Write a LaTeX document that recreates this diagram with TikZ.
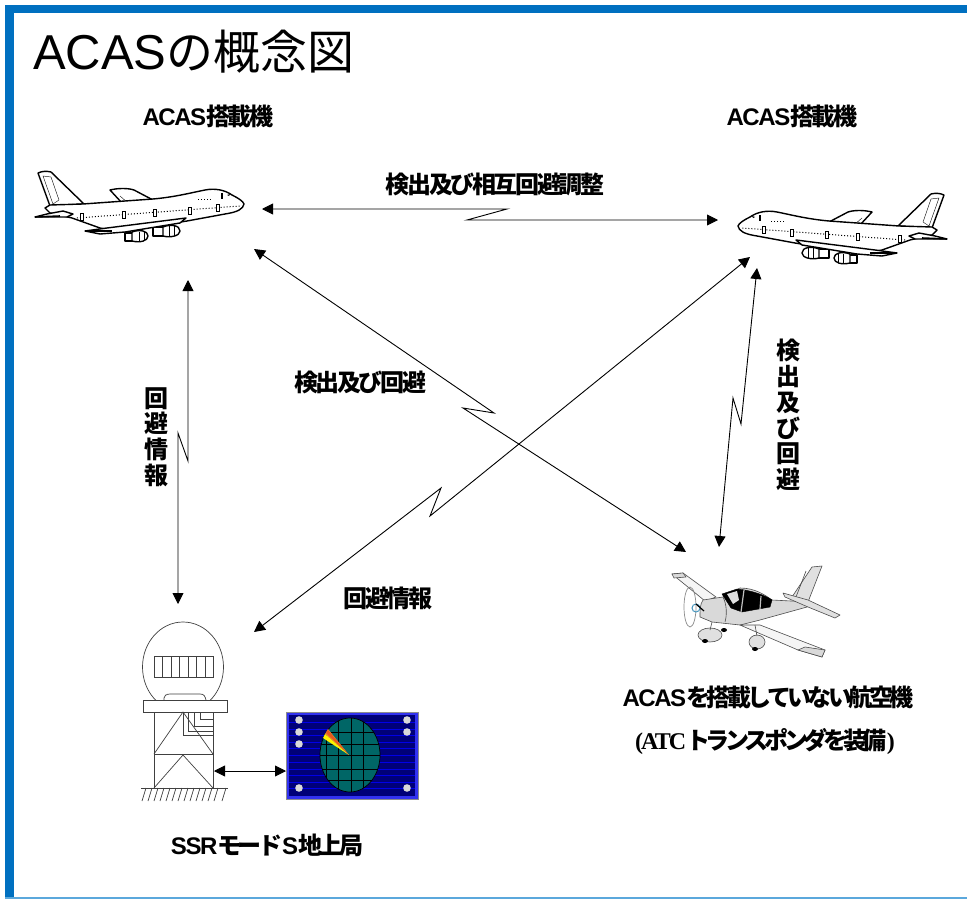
\documentclass[tikz,border=0pt]{standalone}
\usepackage{fontspec}
\usetikzlibrary{arrows.meta}
\newfontfamily\titlecjk{Noto Sans CJK JP}
\newfontfamily\titlelat{Liberation Sans}
\newfontfamily\lblcjk[LetterSpace=-10]{Noto Sans CJK JP}
\newfontfamily\lbllat[LetterSpace=-6]{Liberation Sans}
\newfontfamily\lblser[LetterSpace=-8]{Liberation Serif}
\newfontfamily\lbltight[LetterSpace=-15]{Noto Sans CJK JP}
\newfontfamily\lblatc[LetterSpace=-18]{Noto Sans CJK JP}
\newcommand\bigjet{%
  % far wing
  \draw[jetline,fill=white] (110,190) .. controls (118,188) and (128,188) .. (134,190) -- (153,200) -- (122,203) -- cycle;
  \draw[thin] (120,196) -- (128,203);
  % tail fin
  \draw[jetline,fill=white] (50,206) -- (38,173) .. controls (42,171) and (47,171) .. (51,172) -- (84,204) -- cycle;
  \draw[thin,fill=white] (43,176) -- (51,177) -- (59,200) -- (53,204) -- cycle;
  % fuselage
  \draw[jetline,fill=white] (83,204) -- (153,199) .. controls (175,197) and (190,193) .. (205,190) .. controls (215,188) and (225,190) .. (232,195) .. controls (238,198) and (243,201) .. (244,204) .. controls (243,209) and (238,212) .. (225,214) -- (187,221) -- (120,232) -- (100,228) -- (72,218) -- (50,213) -- (45,208) -- (50,205) -- cycle;
  % tail plane
  \draw[jetline,fill=white] (35,217) -- (47,214) -- (63,211) -- (73,214) -- (67,217) -- cycle;
  \draw[line width=1.6pt] (35,217) -- (60,216);
  % engines
  \draw[jetline,fill=white] (125,233) rectangle (134,241);
  \draw[jetline,fill=white] (132,232) .. controls (140,229) and (148,231) .. (148,236) .. controls (148,241) and (140,243) .. (132,241) -- cycle;
  \draw[line width=.8pt] (139,232) -- (139,241) (144,232) -- (144,241);
  \draw[jetline,fill=white] (153,227) rectangle (164,236);
  \draw[jetline,fill=white] (163,227) .. controls (170,224) and (180,225) .. (180,231) .. controls (180,236) and (170,238) .. (163,236) -- cycle;
  \draw[line width=.8pt] (169,226) -- (169,236) (174,226) -- (174,236);
  % near wing
  \draw[jetline,fill=white] (186,218) -- (107,228) -- (85,231) -- (100,234) -- (125,232) -- (180,223) -- cycle;
  \draw[line width=2pt] (85,231) -- (112,231);
  % windows
  \draw[line width=1pt,dotted] (77,218) -- (240,206);
  \foreach \dx/\dy in {82/217,124/215,155/213,190/211,218/208}
    \draw[line width=1pt,fill=white] (\dx-1.5,\dy-3.5) rectangle (\dx+1.5,\dy+3.5);
  \fill (221,193) rectangle (223,199);
  \draw[line width=1pt,dotted] (198,199) -- (212,199);
  \fill (227,195) -- (230,194) -- (229,196) -- cycle;
}
\tikzset{
  x=1pt,y=-1pt,
  link/.style={line width=.9pt,{Triangle[length=11pt,width=11pt]}-{Triangle[length=11pt,width=11pt]}},
  jetline/.style={line width=1.4pt,line join=round},
  bline/.style={line width=.7pt,black!75},
  gp/.style={draw=black!70,line width=.6pt,line join=round},
  cjklabel/.style={inner sep=0pt,font=\fontsize{24}{26}\selectfont\lblcjk\bfseries},
  vlabel/.style={inner sep=0pt,align=center,font=\fontsize{24}{25.7}\selectfont\titlecjk\bfseries},
}
\begin{document}
\begin{tikzpicture}
\useasboundingbox (0,0) rectangle (967,899);
\fill[white] (0,0) rectangle (967,899);
% frame
\fill[fill={rgb,255:red,0;green,112;blue,192}] (5,5) rectangle (967,13);
\fill[fill={rgb,255:red,0;green,112;blue,192}] (5,5) rectangle (13.5,898);
\fill[fill={rgb,255:red,91;green,168;blue,220}] (5,897) rectangle (967,898.5);
% title
\node[anchor=base west,inner sep=0pt] (title) at (33,70) {\fontsize{49}{52}\selectfont\titlelat ACAS\titlecjk\fontsize{47}{52}\selectfont の概念図};
% labels
\node[cjklabel] (acasL) at (208,116) {\lbllat\bfseries ACAS\lblcjk\bfseries 搭載機};
\node[cjklabel] (acasR) at (792,116) {\lbllat\bfseries ACAS\lblcjk\bfseries 搭載機};
\node[cjklabel] (mutual) at (495,184) {検出及び相互回避調整};
\node[cjklabel] (detect) at (360,382) {検出及び回避};
\node[cjklabel] (info) at (388,598) {回避情報};
\node[vlabel] (vinfo) at (156,437) {回\\避\\情\\報};
\node[vlabel] (vdetect) at (788,415) {検\\出\\及\\び\\回\\避};
\node[cjklabel] (noacas) at (768,697) {\lbllat\bfseries ACAS\lbltight\bfseries を搭載していない航空機};
\node[cjklabel] (atc) at (765,742) {\lblser\bfseries (ATC\lblatc\bfseries トランスポンダを装備\lblser\bfseries )};
\node[cjklabel] (ssr) at (267,845) {\lbllat\bfseries SSR\lbltight\bfseries モード\lbllat\bfseries S\lbltight\bfseries 地上局};
% airliners
\bigjet
\begin{scope}[shift={(982,22)},xscale=-1]
\bigjet
\end{scope}
% connector anchor points
\coordinate (a1) at (262,209); \coordinate (a1k) at (507,209); \coordinate (a1m) at (467,220); \coordinate (a1e) at (718,220);
\coordinate (a2) at (188,280); \coordinate (a2k) at (188,461); \coordinate (a2m) at (178,433); \coordinate (a2e) at (178,604);
\coordinate (a3) at (254,249); \coordinate (a3k) at (494,413); \coordinate (a3m) at (463,408); \coordinate (a3e) at (686,552);
\coordinate (a4) at (750,257); \coordinate (a4k) at (430,516); \coordinate (a4m) at (441,488); \coordinate (a4e) at (254,632);
\coordinate (a5) at (757,268); \coordinate (a5k) at (741,424); \coordinate (a5m) at (733,398); \coordinate (a5e) at (719,547);
\coordinate (a6) at (214,771); \coordinate (a6e) at (286,771);
\draw[link] (a1) -- (a1k) -- (a1m) -- (a1e);
\draw[link] (a2) -- (a2k) -- (a2m) -- (a2e);
\draw[link] (a3) -- (a3k) -- (a3m) -- (a3e);
\draw[link] (a4) -- (a4k) -- (a4m) -- (a4e);
\draw[link] (a5) -- (a5k) -- (a5m) -- (a5e);
\draw[link] (a6) -- (a6e);
% ground station
\begin{scope}
  \clip (130,610) rectangle (240,700);
  \draw[bline] (183,667) ellipse [x radius=40.5,y radius=45];
\end{scope}
\draw[bline] (154,656) rectangle (213,677);
\foreach \gx in {162.5,171,179.5,188,196.5,205} \draw[bline] (\gx,656) -- (\gx,677);
\draw[bline] (164,700) -- (164,698) .. controls (164,696) and (166,694) .. (170,694) -- (200,694) .. controls (204,694) and (205,696) .. (206,700);
\draw[bline] (143,700) rectangle (227,712);
\draw[bline] (154,712) -- (154,788) (213,712) -- (213,788);
\draw[bline] (154,754) -- (213,754);
\draw[bline] (154,754) -- (183,712) -- (213,754);
\draw[bline] (154,788) -- (183,755) -- (213,788);
\draw[bline] (200,712) -- (200,719) -- (213,719);
\draw[bline] (194,712) -- (194,726) -- (213,726);
\draw[bline] (188,712) -- (188,731) -- (213,731);
\draw[bline] (183,712) -- (183,735) -- (213,735);
\draw[bline] (141,788) -- (228,788);
\foreach \hx in {146,152,158,164,170,176,182,188,194,200,206,212,218,226}
  \draw[bline] (\hx,788) -- (\hx-4,801);
% radar display
\fill[black!45] (285.5,711.5) rectangle (418.5,800);
\fill[fill={rgb,255:red,50;green,50;blue,240}] (286.5,712.5) rectangle (417.5,799);
\fill[fill={rgb,255:red,0;green,0;blue,120}] (289,715) rectangle (415,796);
\foreach \ly in {722,729,735.5,742,748.5,755,762,769,775.5,782,788.5}
  \draw[line width=.8pt,color={rgb,255:red,0;green,0;blue,230}] (289,\ly) -- (415,\ly);
\draw[line width=.7pt,fill={rgb,255:red,0;green,102;blue,102}] (350,755) ellipse [x radius=30,y radius=37];
\begin{scope}
  \clip (350,755) ellipse [x radius=30,y radius=37];
  \foreach \vx in {326,338,351,363} \draw[line width=.7pt] (\vx,715) -- (\vx,796);
  \foreach \hy in {732,744,755,769,780} \draw[line width=.7pt] (318,\hy) -- (382,\hy);
\end{scope}
\fill[fill={rgb,255:red,240;green,130;blue,50}] (349,755) -- (328,729) -- (325,734) -- cycle;
\fill[yellow] (349,755) -- (325,734) -- (323,738) -- cycle;
\fill[fill={rgb,255:red,230;green,90;blue,30}] (349,755) -- (328,730) -- (326,733) -- cycle;
\foreach \px/\py in {299/720,299/732,299/744,299/788,407/720,407/732,407/788}
  \fill[black!15] (\px,\py) circle [radius=3.8];
% light aircraft
\draw[gp,fill=black!4] (672,574) -- (683,573) -- (716,597) -- (705,601) -- cycle;
\draw[gp,fill=black!15] (672,574) -- (683,573) -- (686,577) -- (674,578) -- cycle;
\draw[gp,fill=black!12] (792,597) -- (812,567) -- (822,566) -- (808,602) -- cycle;
\draw[gp] (806,571) -- (796,597);
\draw[gp,fill=black!15] (703,600) -- (723,597) -- (740,588) .. controls (755,588) and (765,595) .. (772,600) -- (810,602) -- (807,607) -- (760,620) -- (740,625) -- (712,622) -- (700,617) .. controls (700,610) and (700,604) .. (703,600) -- cycle;
\draw[gp] (723,597) .. controls (727,605) and (727,615) .. (725,622);
\draw[fill=black] (722,594) -- (737,589) .. controls (750,590) and (765,595) .. (772,600) -- (770,607) -- (742,612) -- (731,608) -- cycle;
\draw[line width=1.2pt,black!25] (744,590) -- (741,612) (761,596) -- (760,609);
\fill[black!12] (727,594) -- (737,591) -- (739,600) -- (733,604) -- cycle;
\draw[gp,fill=black!12] (783,593) -- (808,600) -- (840,615) -- (835,618) -- (808,607) -- (785,597) -- cycle;
\draw[gp,fill=black!4] (740,625) -- (760,625) -- (825,650) -- (822,657) -- (798,650) -- cycle;
\draw[gp,fill=black!15] (805,647) -- (825,650) -- (822,657) -- (798,650) -- cycle;
\draw[gp,fill=black!12] (710,635) ellipse [x radius=12,y radius=7];
\draw[gp,fill=black!12] (757,642) ellipse [x radius=8,y radius=7];
\draw[gp] (712,622) -- (710,630) (755,625) -- (757,636);
\fill (705,641) ellipse [x radius=3,y radius=2];
\fill (755,649) ellipse [x radius=3,y radius=2];
\fill (724,630) ellipse [x radius=3,y radius=2];
\draw[black!45,line width=.7pt] (690,607) ellipse [x radius=6,y radius=20];
\draw[line width=1pt,color={rgb,255:red,70;green,150;blue,190}] (696,608) circle [radius=4];
\draw[line width=1.2pt] (696,604) -- (704,611);
\end{tikzpicture}
\end{document}
